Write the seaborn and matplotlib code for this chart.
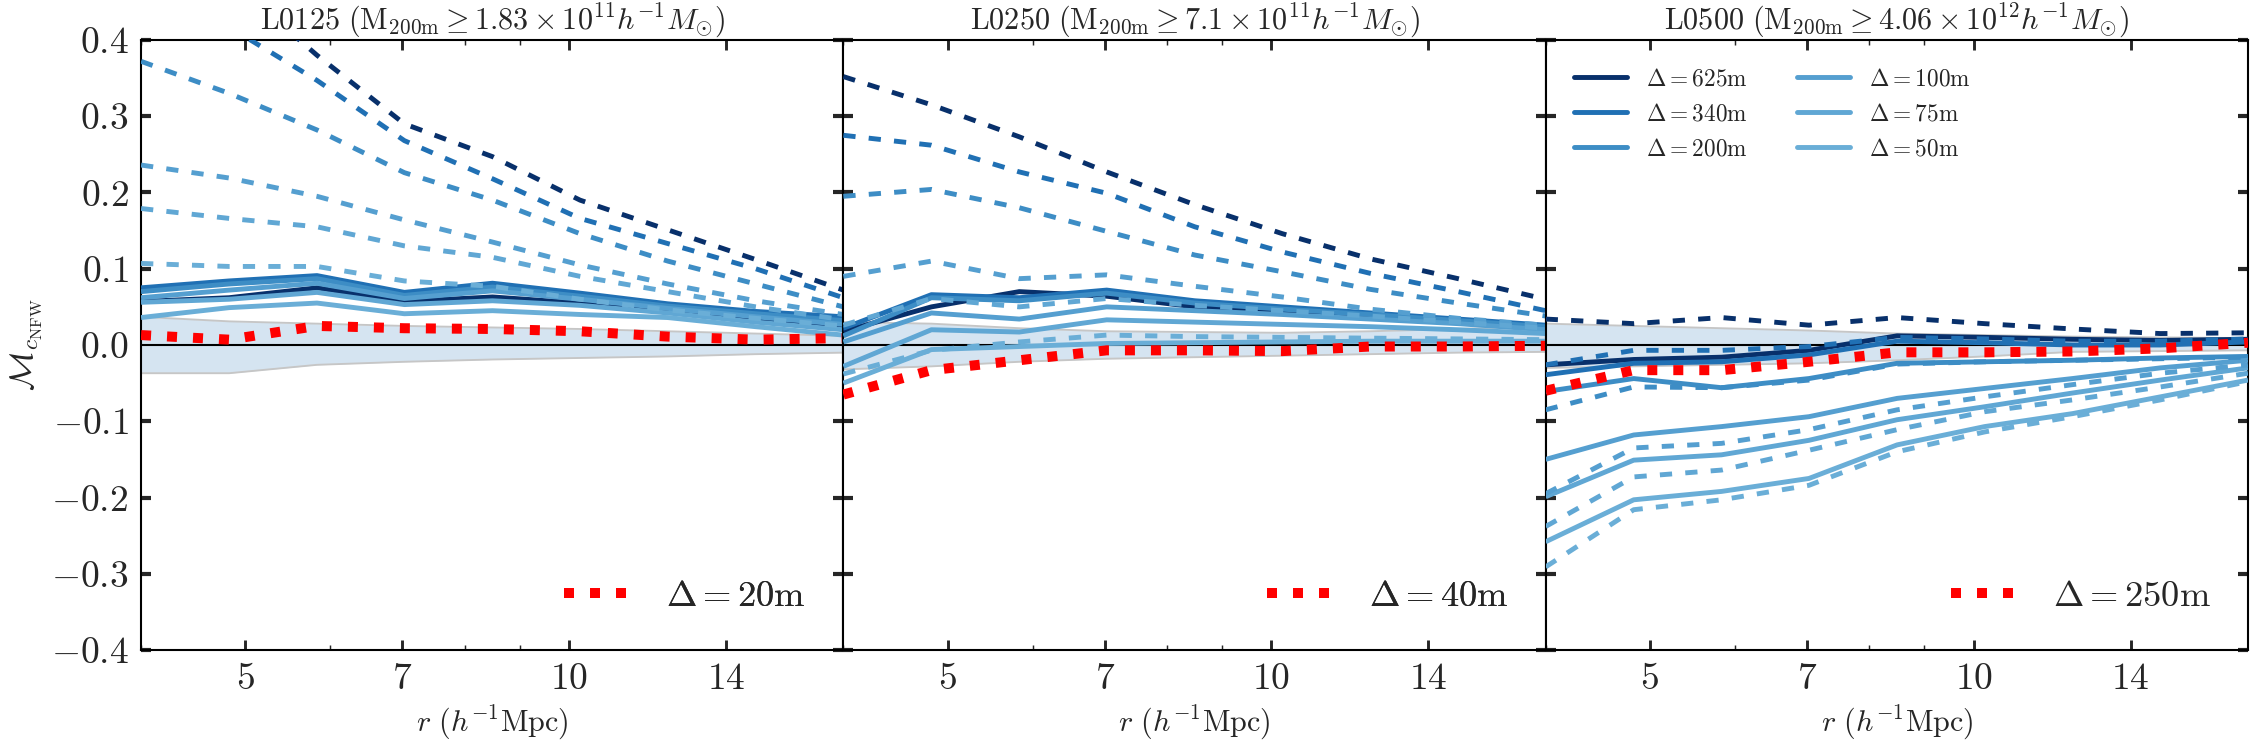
import numpy as np
import matplotlib
matplotlib.use("Agg")
import matplotlib.pyplot as plt
from matplotlib.lines import Line2D
from matplotlib.ticker import FixedLocator, FixedFormatter, NullFormatter, FuncFormatter
import seaborn as sns

# ---------------- data ----------------
r = [4.0, 4.83, 5.83, 7.03, 8.49, 10.24, 12.36, 14.92, 18.0]
deltas = ["625", "340", "200", "100", "75", "50"]
colors = ["#08306b", "#2070b4", "#3d8dc5", "#559fd0", "#60a7d4", "#6aaed7"]

titles = [
    r"$\mathrm{L0125}\ (\mathrm{M}_{200\mathrm{m}}\geq 1.83\times 10^{11}h^{-1}M_{\odot})$",
    r"$\mathrm{L0250}\ (\mathrm{M}_{200\mathrm{m}}\geq 7.1\times 10^{11}h^{-1}M_{\odot})$",
    r"$\mathrm{L0500}\ (\mathrm{M}_{200\mathrm{m}}\geq 4.06\times 10^{12}h^{-1}M_{\odot})$",
]
red_labels = ["20", "40", "250"]

# L0125
l0125_solid = [
    [0.057, 0.062, 0.075, 0.057, 0.063, 0.055, 0.044, 0.032, 0.022],
    [0.075, 0.084, 0.091, 0.069, 0.081, 0.068, 0.054, 0.044, 0.037],
    [0.070, 0.080, 0.087, 0.065, 0.076, 0.064, 0.051, 0.041, 0.032],
    [0.062, 0.072, 0.081, 0.061, 0.071, 0.060, 0.048, 0.037, 0.027],
    [0.056, 0.060, 0.069, 0.053, 0.058, 0.052, 0.042, 0.030, 0.020],
    [0.036, 0.049, 0.055, 0.041, 0.045, 0.040, 0.036, 0.024, 0.013],
]
l0125_dashed = [
    [0.58, 0.48, 0.380, 0.290, 0.247, 0.190, 0.151, 0.112, 0.072],
    [0.49, 0.417, 0.347, 0.268, 0.218, 0.166, 0.133, 0.100, 0.062],
    [0.372, 0.330, 0.282, 0.226, 0.190, 0.146, 0.110, 0.080, 0.050],
    [0.236, 0.219, 0.195, 0.164, 0.135, 0.105, 0.080, 0.058, 0.040],
    [0.179, 0.166, 0.155, 0.130, 0.115, 0.090, 0.070, 0.050, 0.033],
    [0.107, 0.103, 0.103, 0.084, 0.077, 0.060, 0.046, 0.035, 0.025],
]
l0125_red = [0.013, 0.007, 0.025, 0.022, 0.021, 0.018, 0.011, 0.007, 0.009]
l0125_band_hi = [0.037, 0.031, 0.028, 0.025, 0.023, 0.021, 0.018, 0.015, 0.012]
l0125_band_lo = [-0.037, -0.037, -0.026, -0.022, -0.019, -0.017, -0.015, -0.012, -0.010]

# L0250
l0250_solid = [
    [0.018, 0.050, 0.070, 0.064, 0.050, 0.042, 0.036, 0.030, 0.022],
    [0.022, 0.066, 0.062, 0.072, 0.058, 0.050, 0.042, 0.034, 0.026],
    [0.012, 0.062, 0.058, 0.068, 0.055, 0.047, 0.040, 0.032, 0.024],
    [0.004, 0.042, 0.034, 0.050, 0.045, 0.040, 0.034, 0.028, 0.020],
    [-0.028, 0.020, 0.017, 0.033, 0.030, 0.027, 0.024, 0.020, 0.015],
    [-0.050, -0.006, -0.002, 0.002, 0.003, 0.004, 0.005, 0.005, 0.005],
]
l0250_dashed = [
    [0.352, 0.315, 0.273, 0.227, 0.184, 0.146, 0.113, 0.087, 0.060],
    [0.275, 0.262, 0.227, 0.199, 0.155, 0.122, 0.094, 0.070, 0.045],
    [0.195, 0.204, 0.180, 0.149, 0.118, 0.096, 0.073, 0.055, 0.038],
    [0.090, 0.110, 0.087, 0.092, 0.077, 0.063, 0.047, 0.035, 0.026],
    [0.026, 0.061, 0.050, 0.061, 0.052, 0.045, 0.038, 0.030, 0.022],
    [-0.038, -0.007, 0.004, 0.013, 0.011, 0.010, 0.009, 0.008, 0.007],
]
l0250_red = [-0.065, -0.033, -0.020, -0.007, -0.007, -0.008, -0.002, -0.002, -0.001]
l0250_band_hi = [0.030, 0.028, 0.022, 0.018, 0.017, 0.016, 0.018, 0.021, 0.025]
l0250_band_lo = [-0.032, -0.028, -0.022, -0.018, -0.016, -0.014, -0.012, -0.010, -0.009]

# L0500
l0500_solid = [
    [-0.026, -0.019, -0.016, -0.007, 0.012, 0.010, 0.0075, 0.006, 0.0075],
    [-0.039, -0.024, -0.022, -0.013, 0.005, 0.003, 0.000, 0.000, 0.004],
    [-0.061, -0.044, -0.056, -0.044, -0.024, -0.022, -0.020, -0.017, -0.015],
    [-0.150, -0.118, -0.107, -0.094, -0.070, -0.057, -0.044, -0.030, -0.020],
    [-0.199, -0.151, -0.144, -0.125, -0.098, -0.081, -0.063, -0.046, -0.030],
    [-0.258, -0.203, -0.192, -0.175, -0.131, -0.107, -0.090, -0.068, -0.046],
]
l0500_dashed = [
    [0.034, 0.028, 0.036, 0.026, 0.036, 0.028, 0.021, 0.015, 0.016],
    [-0.026, -0.007, -0.007, -0.002, 0.010, 0.008, 0.005, 0.005, 0.008],
    [-0.085, -0.055, -0.056, -0.046, -0.025, -0.022, -0.020, -0.018, -0.016],
    [-0.195, -0.135, -0.129, -0.111, -0.085, -0.068, -0.052, -0.037, -0.026],
    [-0.238, -0.173, -0.164, -0.138, -0.111, -0.0875, -0.072, -0.055, -0.037],
    [-0.291, -0.216, -0.203, -0.184, -0.140, -0.114, -0.094, -0.072, -0.048],
]
l0500_red = [-0.060, -0.033, -0.033, -0.022, -0.0096, -0.0096, -0.0085, -0.0044, 0.003]
l0500_band_hi = [0.028, 0.025, 0.022, 0.019, 0.015, 0.013, 0.011, 0.010, 0.009]
l0500_band_lo = [-0.030, -0.028, -0.026, -0.024, -0.020, -0.015, -0.009, -0.008, -0.007]

x_ticks = [5, 7, 10, 14]
x_ticklabels = ["$5$", "$7$", "$10$", "$14$"]
y_ticks = [-0.4, -0.3, -0.2, -0.1, 0.0, 0.1, 0.2, 0.3, 0.4]

panels = [
    (l0125_solid, l0125_dashed, l0125_red, l0125_band_lo, l0125_band_hi),
    (l0250_solid, l0250_dashed, l0250_red, l0250_band_lo, l0250_band_hi),
    (l0500_solid, l0500_dashed, l0500_red, l0500_band_lo, l0500_band_hi),
]

# ---------------- style ----------------
sns.set_style("ticks")
plt.rcParams.update({
    "font.family": ["serif"],
    "font.serif": ["cmr10", "DejaVu Serif"],
    "mathtext.fontset": "cm",
    "axes.formatter.use_mathtext": True,
    "axes.linewidth": 1.0,
    "axes.edgecolor": "black",
})

fig, axes = plt.subplots(1, 3, figsize=(15, 5), dpi=150, sharey=True)
fig.subplots_adjust(left=0.0627, right=0.9991, bottom=0.1333, top=0.9467, wspace=0)

LW = 2.35
RED_LW = 4.8
DASHED = (0, (2.5, 2.7))
DOTTED = (0, (1.0, 1.6))
RED = "#ff0000"


def draw(ax, y, color, lw, ls="-", z=3):
    sns.lineplot(x=r, y=y, ax=ax, color=color, legend=False)
    ln = ax.lines[-1]
    ln.set_linewidth(lw)
    ln.set_linestyle(ls)
    ln.set_dash_capstyle("butt")
    ln.set_solid_capstyle("butt")
    ln.set_zorder(z)


for i, ax in enumerate(axes):
    solid, dashed, red, lo, hi = panels[i]
    ax.set_xscale("log")
    ax.fill_between(r, lo, hi, color="#d5e4f1", lw=0, zorder=1)
    draw(ax, hi, "#c6c6c6", 0.9, "-", 1.5)
    draw(ax, lo, "#c6c6c6", 0.9, "-", 1.5)
    ax.axhline(0, color="black", lw=1.0, zorder=2)
    for vals, c in zip(solid, colors):
        draw(ax, vals, c, LW, "-", 3)
    for vals, c in zip(dashed, colors):
        draw(ax, vals, c, LW, DASHED, 3.5)
    draw(ax, red, RED, RED_LW, DOTTED, 4)

    ax.set_xlim(4, 18)
    ax.set_ylim(-0.4, 0.4)
    ax.xaxis.set_major_locator(FixedLocator(x_ticks))
    ax.xaxis.set_major_formatter(FixedFormatter(x_ticklabels))
    ax.xaxis.set_minor_formatter(NullFormatter())
    ax.yaxis.set_major_locator(FixedLocator(y_ticks))
    ax.yaxis.set_major_formatter(FuncFormatter(lambda v, p: f"${v:.1f}$"))
    ax.tick_params(axis="both", which="major", direction="in", top=True, right=True,
                   labelsize=18, pad=6)
    ax.tick_params(axis="x", which="major", length=5, width=1.4)
    ax.tick_params(axis="y", which="major", length=5, width=2.0)
    ax.tick_params(axis="x", which="minor", direction="in", top=True, length=2.5, width=0.7)
    ax.set_title(titles[i], fontsize=14.5, pad=4)
    ax.set_xlabel(r"$r\ (h^{-1}\mathrm{Mpc})$", fontsize=14.5)
    ax.set_ylabel("")

    red_handle = Line2D([], [], color=RED, lw=RED_LW, linestyle=DOTTED, dash_capstyle="butt")
    leg = ax.legend([red_handle], [r"$\Delta = %s\mathrm{m}$" % red_labels[i]],
                    loc="lower right", frameon=False, fontsize=17.5, handlelength=1.7,
                    handletextpad=1.1, borderaxespad=0.62)
    ax.add_artist(leg)

axes[0].set_ylabel(r"$\mathcal{M}_{c_{\mathrm{NFW}}}$", fontsize=16)
axes[0].yaxis.set_label_coords(-0.137, 0.5)

handles = [Line2D([], [], color=c, lw=LW) for c in colors]
labels = [r"$\Delta = %s\mathrm{m}$" % d for d in deltas]
axes[2].legend(handles, labels, ncol=2, loc="upper left", frameon=False, fontsize=11.2,
               handlelength=2.3, handletextpad=0.8, columnspacing=2.1,
               labelspacing=0.55, borderaxespad=0.8)

fig.savefig("out.png", dpi=150)
